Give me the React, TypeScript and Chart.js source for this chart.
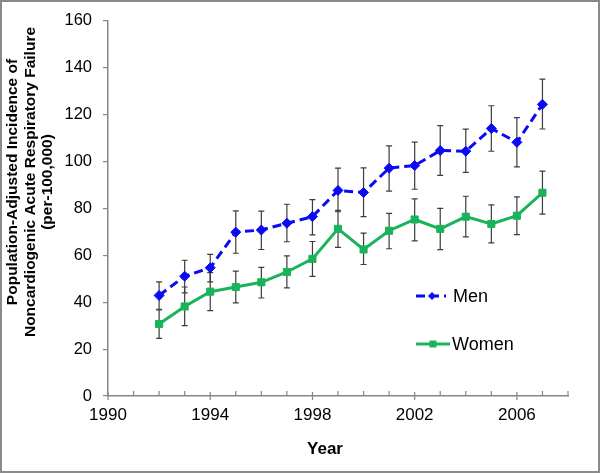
import React, { useEffect, useRef } from "react";
import { Chart, registerables } from "chart.js";

Chart.register(...registerables);

// ---- Data ----
const years = [1992, 1993, 1994, 1995, 1996, 1997, 1998, 1999, 2000, 2001, 2002, 2003, 2004, 2005, 2006, 2007];

const menValues = [42.9, 51.1, 54.7, 69.9, 70.8, 73.7, 76.5, 87.7, 86.8, 97.2, 98.3, 104.7, 104.4, 114.1, 108.2, 124.4];
const menHigh = [48.7, 57.9, 60.4, 79.0, 78.9, 81.8, 83.8, 97.2, 97.3, 106.7, 108.3, 115.3, 113.8, 123.8, 118.7, 135.2];
const menLow = [37.0, 44.0, 48.7, 60.9, 62.5, 65.8, 68.7, 78.6, 76.5, 87.4, 88.2, 94.1, 95.4, 104.4, 97.7, 113.9];

const womenValues = [30.7, 38.2, 44.5, 46.5, 48.5, 52.9, 58.5, 71.3, 62.5, 70.5, 75.3, 71.3, 76.5, 73.4, 76.9, 86.7];
const womenHigh = [36.7, 46.5, 52.6, 53.3, 54.9, 59.8, 65.9, 79.2, 69.5, 77.9, 84.1, 80.0, 85.2, 81.5, 84.9, 95.9];
const womenLow = [24.6, 30.0, 36.4, 39.7, 41.8, 46.1, 51.0, 63.4, 56.1, 62.8, 66.2, 62.4, 67.9, 65.3, 68.8, 77.6];

const xMin = 1990;
const xMax = 2008;
const xLabelEvery = 4;
const yMin = 0;
const yMax = 160;
const yStep = 20;

const seriesLabels = ["Men", "Women"];
const yTitleLines = [
  "Population-Adjusted Incidence of",
  "Noncardiogenic Acute Respiratory Failure",
  "(per-100,000)",
];
const xTitle = "Year";

const MEN_COLOR = "#0a0af5";
const WOMEN_COLOR = "#19b35a";
const AXIS_COLOR = "#868686";
const ERR_COLOR = "#3c3c3c";
const FONT = "'Liberation Sans', Arial, Helvetica, sans-serif";

export default function App() {
  const ref = useRef<HTMLCanvasElement | null>(null);

  useEffect(() => {
    const canvas = ref.current;
    if (!canvas) return;

    const errors = [
      { low: menLow, high: menHigh },
      { low: womenLow, high: womenHigh },
    ];

    const errorBars = {
      id: "errorBars",
      beforeDatasetsDraw(chart: any) {
        const { ctx } = chart;
        const xs = chart.scales.x;
        const ys = chart.scales.y;
        ctx.save();
        ctx.strokeStyle = ERR_COLOR;
        ctx.lineWidth = 1.2;
        errors.forEach((e) => {
          years.forEach((yr, i) => {
            const x = xs.getPixelForValue(yr);
            const yt = ys.getPixelForValue(e.high[i]);
            const yb = ys.getPixelForValue(e.low[i]);
            ctx.beginPath();
            ctx.moveTo(x, yt);
            ctx.lineTo(x, yb);
            ctx.moveTo(x - 3, yt);
            ctx.lineTo(x + 3, yt);
            ctx.moveTo(x - 3, yb);
            ctx.lineTo(x + 3, yb);
            ctx.stroke();
          });
        });
        ctx.restore();
      },
    };

    const decorations = {
      id: "decorations",
      beforeDraw(chart: any) {
        const { ctx } = chart;
        ctx.save();
        ctx.fillStyle = "#ffffff";
        ctx.fillRect(0, 0, chart.width, chart.height);
        ctx.restore();
      },
      afterDraw(chart: any) {
        const { ctx } = chart;
        const xs = chart.scales.x;
        const area = chart.chartArea;
        ctx.save();

        // x-axis tick marks: majors cross the axis, minors inside
        ctx.strokeStyle = AXIS_COLOR;
        ctx.lineWidth = 1.2;
        for (let yr = xMin; yr <= xMax; yr++) {
          const x = xs.getPixelForValue(yr);
          const major = (yr - xMin) % xLabelEvery === 0;
          ctx.beginPath();
          if (major) {
            ctx.moveTo(x, area.bottom - 4);
            ctx.lineTo(x, area.bottom + 4);
          } else {
            ctx.moveTo(x, area.bottom - 5);
            ctx.lineTo(x, area.bottom);
          }
          ctx.stroke();
        }

        // y-axis title (rotated, 3 lines)
        ctx.fillStyle = "#000";
        ctx.font = `bold 15.5px ${FONT}`;
        ctx.textAlign = "center";
        ctx.textBaseline = "middle";
        yTitleLines.forEach((line, i) => {
          ctx.save();
          ctx.translate(13 + i * 17.5, 182);
          ctx.rotate(-Math.PI / 2);
          ctx.fillText(line, 0, 0);
          ctx.restore();
        });

        // x-axis title
        ctx.font = `bold 17px ${FONT}`;
        ctx.fillText(xTitle, 325, 449);

        // legend
        const ds = chart.data.datasets;
        const rows = [
          { y: 296, x0: 416, x1: 446, mx: 432, tx: 453 },
          { y: 344, x0: 416, x1: 450, mx: 433, tx: 452 },
        ];
        rows.forEach((r, i) => {
          const d = ds[i];
          ctx.save();
          ctx.strokeStyle = d.borderColor;
          ctx.lineWidth = d.borderWidth;
          ctx.setLineDash(d.borderDash || []);
          ctx.beginPath();
          ctx.moveTo(r.x0, r.y);
          ctx.lineTo(r.x1, r.y);
          ctx.stroke();
          ctx.restore();
          ctx.fillStyle = d.pointBackgroundColor;
          ctx.beginPath();
          if (d.pointStyle === "rectRot") {
            const s = 4;
            ctx.moveTo(r.mx, r.y - s);
            ctx.lineTo(r.mx + s, r.y);
            ctx.lineTo(r.mx, r.y + s);
            ctx.lineTo(r.mx - s, r.y);
            ctx.closePath();
          } else {
            ctx.rect(r.mx - 3.5, r.y - 3.5, 7, 7);
          }
          ctx.fill();
          ctx.fillStyle = "#000";
          ctx.font = `18px ${FONT}`;
          ctx.textAlign = "left";
          ctx.textBaseline = "middle";
          ctx.fillText(d.label, r.tx, r.y + 1);
        });

        // outer frame
        ctx.strokeStyle = "#8a8a8a";
        ctx.lineWidth = 2;
        ctx.setLineDash([]);
        ctx.strokeRect(1, 1, chart.width - 2, chart.height - 2);
        ctx.restore();
      },
    };

    const chart = new Chart(canvas, {
      type: "line",
      data: {
        datasets: [
          {
            label: seriesLabels[0],
            data: years.map((x, i) => ({ x, y: menValues[i] })),
            borderColor: MEN_COLOR,
            backgroundColor: MEN_COLOR,
            pointBackgroundColor: MEN_COLOR,
            pointBorderColor: MEN_COLOR,
            borderWidth: 3,
            borderDash: [9, 5],
            pointStyle: "rectRot",
            pointRadius: 5,
            pointBorderWidth: 1,
            tension: 0,
          },
          {
            label: seriesLabels[1],
            data: years.map((x, i) => ({ x, y: womenValues[i] })),
            borderColor: WOMEN_COLOR,
            backgroundColor: WOMEN_COLOR,
            pointBackgroundColor: WOMEN_COLOR,
            pointBorderColor: WOMEN_COLOR,
            borderWidth: 3,
            pointStyle: "rect",
            pointRadius: 5,
            pointBorderWidth: 1,
            tension: 0,
          },
        ],
      },
      options: {
        responsive: false,
        animation: false,
        layout: { padding: { top: 14, right: 32, left: 0, bottom: 0 } },
        plugins: {
          legend: { display: false },
          tooltip: { enabled: false },
          title: { display: false },
        },
        scales: {
          x: {
            type: "linear",
            min: xMin,
            max: xMax,
            afterFit: (s: any) => {
              s.height = 77;
            },
            grid: { display: true, drawOnChartArea: false, drawTicks: false },
            border: { display: true, color: AXIS_COLOR, width: 1.5 },
            ticks: {
              stepSize: 1,
              autoSkip: false,
              maxRotation: 0,
              minRotation: 0,
              padding: 9,
              color: "#000",
              font: { family: FONT, size: 17 },
              callback: (v: any) => ((Number(v) - xMin) % xLabelEvery === 0 ? String(v) : ""),
            },
          },
          y: {
            type: "linear",
            min: yMin,
            max: yMax,
            afterFit: (s: any) => {
              s.width = 108;
            },
            grid: {
              display: true,
              drawOnChartArea: false,
              drawTicks: true,
              tickLength: 5,
              color: AXIS_COLOR,
              lineWidth: 1.2,
            },
            border: { display: true, color: AXIS_COLOR, width: 1.5 },
            ticks: {
              stepSize: yStep,
              padding: 11,
              color: "#000",
              font: { family: FONT, size: 16.5 },
            },
          },
        },
      },
      plugins: [errorBars, decorations],
    });

    return () => chart.destroy();
  }, []);

  return (
    <div style={{ position: "absolute", left: 0, top: 0, width: 600, height: 473, background: "#fff" }}>
      <canvas ref={ref} width={600} height={473} style={{ width: 600, height: 473, display: "block" }} />
    </div>
  );
}
